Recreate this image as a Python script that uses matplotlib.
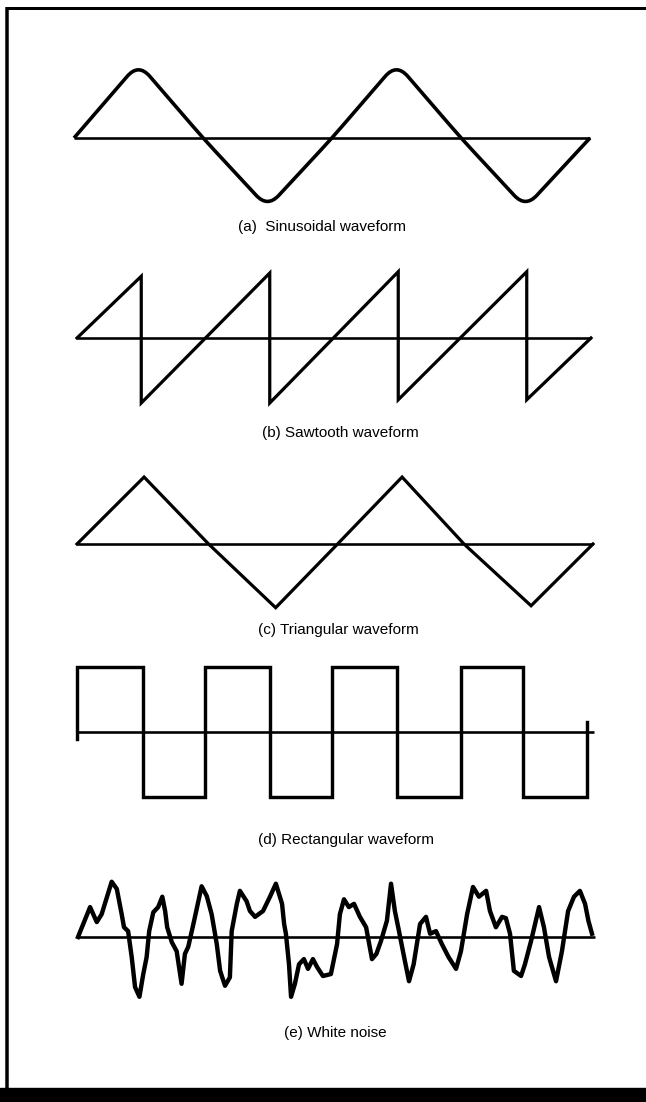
import matplotlib
matplotlib.use("Agg")
import matplotlib.pyplot as plt
from matplotlib.path import Path
from matplotlib.patches import PathPatch, Rectangle

W, H = 646, 1102
PX = 72 / 100  # one pixel in points at dpi 100

# --- waveform data: time in cycles, amplitude in peak units ---
sine_t = [0, 0.25, 0.5, 0.75, 1.0, 1.25, 1.5, 1.75, 2.0]
sine_v = [0, 1.15, 0, -1.07, 0, 1.15, 0, -1.07, 0]  # corner vertices, tips get rounded

saw_t = [0, 0.25, 0.25, 0.75, 0.75, 1.25, 1.25, 1.75, 1.75, 2.0]
saw_v = [0, 0.95, -1.0, 1.0, -1.0, 1.02, -0.95, 1.02, -0.95, 0]

tri_t = [0, 0.26, 0.51, 0.77, 1.01, 1.26, 1.5, 1.76, 2.0]
tri_v = [0, 1.03, 0, -0.98, 0, 1.03, 0, -0.95, 0]

rect_t = [0, 0, 0.26, 0.26, 0.5, 0.5, 0.755, 0.755, 1.0, 1.0,
          1.255, 1.255, 1.505, 1.505, 1.75, 1.75, 2.0, 2.0]
rect_v = [-0.1, 1, 1, -1, -1, 1, 1, -1, -1, 1,
          1, -1, -1, 1, 1, -1, -1, 0.15]

noise_t = [0.0, 0.047, 0.073, 0.092, 0.131, 0.151, 0.170, 0.179, 0.195, 0.209,
           0.222, 0.239, 0.254, 0.267, 0.277, 0.293, 0.312, 0.328, 0.339, 0.347,
           0.365, 0.384, 0.403, 0.416, 0.429, 0.449, 0.481, 0.501, 0.520, 0.540,
           0.553, 0.572, 0.591, 0.598, 0.618, 0.630, 0.656, 0.669, 0.689, 0.720,
           0.747, 0.770, 0.794, 0.802, 0.809, 0.821, 0.829, 0.844, 0.860, 0.879,
           0.895, 0.914, 0.930, 0.953, 0.984, 1.008, 1.019, 1.035, 1.054, 1.074,
           1.097, 1.121, 1.144, 1.161, 1.179, 1.202, 1.218, 1.233, 1.249, 1.272,
           1.288, 1.306, 1.331, 1.354, 1.370, 1.393, 1.416, 1.442, 1.471, 1.490,
           1.514, 1.537, 1.560, 1.588, 1.603, 1.626, 1.650, 1.665, 1.681, 1.696,
           1.724, 1.739, 1.763, 1.794, 1.813, 1.833, 1.860, 1.883, 1.907, 1.930,
           1.953, 1.973, 1.986, 2.0]
noise_v = [0.0, 0.46, 0.23, 0.35, 0.85, 0.74, 0.35, 0.15, 0.09, -0.31,
           -0.77, -0.92, -0.57, -0.31, 0.09, 0.38, 0.46, 0.62, 0.40, 0.15,
           -0.08, -0.22, -0.72, -0.26, -0.15, 0.20, 0.78, 0.63, 0.35, -0.11,
           -0.52, -0.75, -0.62, 0.09, 0.51, 0.71, 0.55, 0.40, 0.31, 0.40,
           0.62, 0.82, 0.51, 0.20, 0.05, -0.42, -0.92, -0.72, -0.42, -0.34,
           -0.49, -0.34, -0.46, -0.60, -0.57, -0.11, 0.35, 0.58, 0.46, 0.51,
           0.31, 0.15, -0.34, -0.26, -0.06, 0.25, 0.82, 0.40, 0.09, -0.37,
           -0.68, -0.42, 0.20, 0.31, 0.05, 0.09, -0.11, -0.31, -0.49, -0.22,
           0.35, 0.77, 0.62, 0.71, 0.40, 0.15, 0.31, 0.29, 0.05, -0.52,
           -0.60, -0.42, -0.06, 0.46, 0.15, -0.31, -0.68, -0.22, 0.40, 0.62,
           0.71, 0.51, 0.25, 0.05]

captions = ["(a)  Sinusoidal waveform", "(b) Sawtooth waveform",
            "(c) Triangular waveform", "(d) Rectangular waveform",
            "(e) White noise"]

# --- layout in pixels ---
U = 65  # pixels per amplitude unit
panels = [  # (left, right, baseline y)
    (74, 590, 138),
    (77, 591, 338),
    (77, 593, 544),
    (77, 587, 732),
    (78, 592, 937),
]
caption_xy = [(322, 227), (340, 433), (338, 630), (346, 840), (335, 1033)]
baseline_ext = [0.0, 0.0, 0.0, 0.027, 0.01]


def add_panel(fig, left, right, base):
    ax = fig.add_axes([left / W, (H - base - 1.5 * U) / H, (right - left) / W, 3 * U / H])
    ax.set_xlim(0, 2)
    ax.set_ylim(-1.5, 1.5)
    ax.axis("off")
    return ax


def rounded_path(t, v, frac=0.175):
    """Polyline with the interior corners rounded by quadratic curves."""
    verts = [(t[0], v[0])]
    codes = [Path.MOVETO]
    for i in range(1, len(t) - 1):
        p, c, n = (t[i - 1], v[i - 1]), (t[i], v[i]), (t[i + 1], v[i + 1])
        a = (c[0] + (p[0] - c[0]) * frac, c[1] + (p[1] - c[1]) * frac)
        b = (c[0] + (n[0] - c[0]) * frac, c[1] + (n[1] - c[1]) * frac)
        verts += [a, c, b]
        codes += [Path.LINETO, Path.CURVE3, Path.CURVE3]
    verts.append((t[-1], v[-1]))
    codes.append(Path.LINETO)
    return Path(verts, codes)


fig = plt.figure(figsize=(W / 100, H / 100), dpi=100)
fig.patch.set_facecolor("white")

# frame
bg = fig.add_axes([0, 0, 1, 1])
bg.set_xlim(0, W)
bg.set_ylim(H, 0)
bg.axis("off")
bg.plot([7, 7], [7, 1092], color="black", lw=3.5 * PX, solid_capstyle="butt")
bg.plot([6, W], [8, 8], color="black", lw=3 * PX, solid_capstyle="butt")
bg.add_patch(Rectangle((0, 1088), W, H - 1088, color="black"))

axes = [add_panel(fig, *p) for p in panels]
base_kw = dict(color="black", lw=2.6 * PX, solid_capstyle="butt", clip_on=False)
wave_kw = dict(color="black", solid_joinstyle="miter", clip_on=False)

for ax, ext in zip(axes, baseline_ext):
    ax.plot([0, 2 + ext], [0, 0], **base_kw)

axes[0].add_patch(PathPatch(rounded_path(sine_t, sine_v), fill=False, ec="black",
                            lw=3.6 * PX, joinstyle="round", clip_on=False))
axes[1].plot(saw_t, saw_v, lw=3.2 * PX, **wave_kw)
axes[2].plot(tri_t, tri_v, lw=3.2 * PX, **wave_kw)
axes[3].plot(rect_t, rect_v, lw=3.4 * PX, **wave_kw)
axes[4].plot(noise_t, noise_v, color="black", lw=4.4 * PX, solid_joinstyle="round",
             clip_on=False)

for text, (x, y) in zip(captions, caption_xy):
    fig.text(x / W, 1 - y / H, text, ha="center", va="center", fontsize=11,
             family=["Liberation Sans", "DejaVu Sans"], color="black")

fig.savefig("out.png", dpi=100)
